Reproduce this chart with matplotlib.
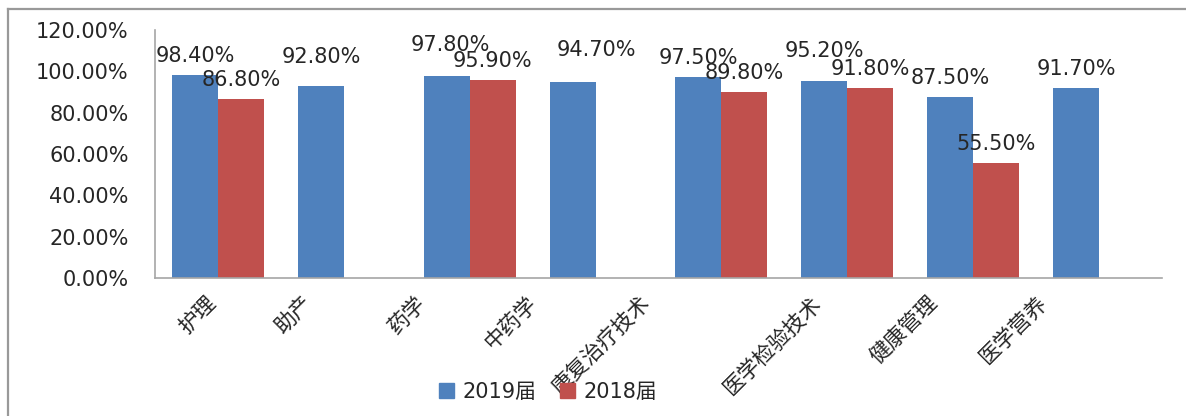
import matplotlib
matplotlib.use("Agg")
import matplotlib.pyplot as plt
import matplotlib.transforms as mtransforms
import numpy as np
from matplotlib.lines import Line2D
from matplotlib.patches import Patch

plt.rcParams['font.family'] = ['DejaVu Sans', 'Noto Sans CJK SC']

categories = ["护理", "助产", "药学", "中药学", "康复治疗技术", "医学检验技术", "健康管理", "医学营养"]
v2019 = [98.4, 92.8, 97.8, 94.7, 97.5, 95.2, 87.5, 91.7]
v2018 = [86.8, np.nan, 95.9, np.nan, 89.8, 91.8, 55.5, np.nan]
series_names = ["2019届", "2018届"]
yticks = [0, 20, 40, 60, 80, 100, 120]

# label placement tweaks (pixels), mimicking the reference's collision-avoided labels
lift_2019 = [0, 10, 12, 13, 0, 11, 0, 0]
shift_2019 = [0, 0, 4, 24, 0, 0, 0, 0]
xlabel_shift = [3, -27, -39, -54, -67, -21, -31, -47]

blue = "#4F81BD"
red = "#C0504D"
txt = "#262626"

W, H = 1186, 416
fig = plt.figure(figsize=(W / 100, H / 100), dpi=100)
ax = fig.add_axes([155 / W, 1 - 278 / H, (1162 - 155) / W, (278 - 30) / H])

x = np.arange(len(categories))
bw = 0.365
ax.bar(x - bw / 2, v2019, bw, color=blue, zorder=2)
ax.bar(x + bw / 2, v2018, bw, color=red, zorder=2)

px = 72 / 100  # points per pixel
for xi, v, lf, sh in zip(x - bw / 2, v2019, lift_2019, shift_2019):
    ax.annotate(f"{v:.2f}%", (xi, v), xytext=(sh * px, (13 + lf) * px), textcoords="offset points",
                ha="center", va="baseline", fontsize=15, color=txt)
for xi, v in zip(x + bw / 2, v2018):
    if not np.isnan(v):
        ax.annotate(f"{v:.2f}%", (xi, v), xytext=(0, 13 * px), textcoords="offset points",
                    ha="center", va="baseline", fontsize=15, color=txt)

ax.set_xlim(-0.5, len(categories) - 0.5)
ax.set_ylim(0, 120)
ax.set_yticks(yticks)
ax.set_yticklabels([f"{t:.2f}%" for t in yticks], fontsize=15, color=txt)
ax.tick_params(axis="y", length=0, pad=19)
ax.set_xticks(x)
ax.set_xticklabels(categories, rotation=45, ha="right", fontsize=15.5,
                   family=["Noto Sans CJK SC", "DejaVu Sans"], color=txt)
ax.tick_params(axis="x", length=0, pad=10)
for lbl, dx in zip(ax.get_xticklabels(), xlabel_shift):
    lbl.set_transform(lbl.get_transform() + mtransforms.ScaledTranslation(dx / 100, 0, fig.dpi_scale_trans))
for s in ["top", "right"]:
    ax.spines[s].set_visible(False)
for s in ["left", "bottom"]:
    ax.spines[s].set_color("#A6A6A6")
    ax.spines[s].set_linewidth(1.2)

handles = [Patch(color=blue), Patch(color=red)]
leg = fig.legend(handles, series_names, loc="center", bbox_to_anchor=(548 / W, 1 - 392 / H),
                 ncol=2, frameon=False, handlelength=0.75, handleheight=0.75,
                 handletextpad=0.4, columnspacing=1.1,
                 prop={"family": ["DejaVu Sans", "Noto Sans CJK SC"], "size": 15})
for t in leg.get_texts():
    t.set_color(txt)

# outer chart border
fig.add_artist(Line2D([8 / W, 1.0], [1 - 9 / H, 1 - 9 / H], transform=fig.transFigure,
                      color="#999999", lw=1.6))
fig.add_artist(Line2D([8 / W, 8 / W], [0, 1 - 9 / H], transform=fig.transFigure,
                      color="#999999", lw=1.6))

fig.savefig("out.png", dpi=100)
